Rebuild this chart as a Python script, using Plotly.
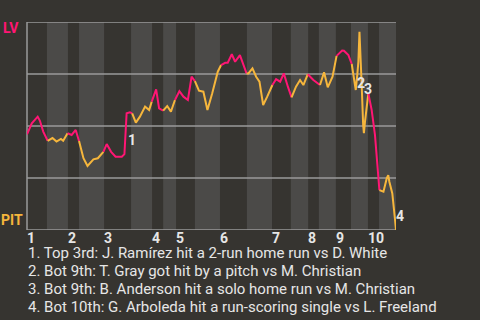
import plotly.graph_objects as go

# ---- data ----
# game progress (0..100) for each play, LV win probability after each play
play_x = [0, 1.3, 2.9, 3.5, 4.4, 5.6, 6.9, 8.0, 9.2, 9.8, 11.0, 12.1, 13.2, 14.1,
          15.3, 16.4, 18.0, 19.2, 20.7, 21.6, 22.8, 24.0, 25.7, 26.4, 27.0, 27.9,
          28.5, 29.5, 30.6, 32.0, 33.1, 33.8, 35.0, 35.8, 36.9, 38.0, 39.0, 40.1,
          41.3, 42.4, 43.6, 44.6, 45.5, 46.6, 47.8, 48.9, 50.2, 51.7, 52.6, 53.7,
          54.4, 55.5, 56.4, 57.7, 59.5, 60.0, 61.1, 62.1, 63.0, 64.0, 65.1, 66.5,
          67.5, 68.6, 69.6, 70.7, 71.7, 72.9, 74.0, 74.9, 76.1, 77.6, 79.4, 80.5,
          81.5, 82.8, 83.9, 85.4, 85.9, 87.1, 88.0, 88.4, 89.1, 89.5, 89.8, 90.1,
          90.3, 90.7, 91.1, 91.3, 91.6, 92.1, 92.5, 93.4, 94.3, 95.0, 95.5, 96.6,
          97.5, 97.9, 98.2, 99.0, 99.7, 100]
lv_win_prob = [0.46, 0.513, 0.545, 0.525, 0.473, 0.429, 0.442, 0.425, 0.4375, 0.429,
               0.465, 0.457, 0.481, 0.428, 0.345, 0.308, 0.340, 0.345, 0.376, 0.413,
               0.376, 0.352, 0.352, 0.365, 0.561, 0.566, 0.561, 0.516, 0.545, 0.593,
               0.577, 0.617, 0.676, 0.585, 0.574, 0.596, 0.569, 0.625, 0.668, 0.641,
               0.625, 0.737, 0.716, 0.670, 0.665, 0.577, 0.657, 0.761, 0.793, 0.804,
               0.804, 0.845, 0.809, 0.841, 0.753, 0.753, 0.777, 0.737, 0.713, 0.601,
               0.641, 0.697, 0.725, 0.713, 0.753, 0.689, 0.638, 0.689, 0.721, 0.697,
               0.749, 0.721, 0.697, 0.758, 0.686, 0.737, 0.837, 0.863, 0.862, 0.841,
               0.798, 0.745, 0.673, 0.745, 0.809, 0.953, 0.825, 0.697, 0.505, 0.465,
               0.521, 0.601, 0.657, 0.577, 0.457, 0.3125, 0.192, 0.184, 0.249, 0.264,
               0.232, 0.176, 0.056, 0.0]
# number of plays in each half-inning (top 1, bot 1, top 2, ...)
plays_per_half = [6, 5, 3, 5, 8, 5, 3, 3, 5, 6, 6, 7, 5, 4, 2, 4, 4, 12, 4, 7]
# start of each half-inning on the progress scale
half_starts = [0, 5.4, 11.1, 14.1, 20.9, 28.2, 33.9, 36.9, 40.4, 45.5, 52.3,
               59.6, 66.4, 71.5, 76.2, 79.1, 83.7, 87.8, 92.4, 95.4, 100]
inning_labels = ["1", "2", "3", "4", "5", "6", "7", "8", "9", "10"]
# key plays: label, progress position, probability position
key_labels = ["1", "2", "3", "4"]
key_x = [28.5, 90.4, 92.4, 101.1]
key_y = [0.433, 0.707, 0.680, 0.067]
notes = [
    "1. Top 3rd: J. Ramírez hit a 2-run home run vs D. White",
    "2. Bot 9th: T. Gray got hit by a pitch vs M. Christian",
    "3. Bot 9th: B. Anderson hit a solo home run vs M. Christian",
    "4. Bot 10th: G. Arboleda hit a run-scoring single vs L. Freeland",
]
team_top = "LV"
team_bottom = "PIT"

BG = "#363430"
BAND = "#4b4a48"
LINE = "#9a9a9a"
PINK = "#ff1674"
ORANGE = "#f6b63c"
TEXT = "#e6e6e6"
FONT = "Roboto"

fig = go.Figure()

# line segments coloured by half-inning
end = 0
for h, n in enumerate(plays_per_half):
    start = max(end - 1, 0)
    end = end + n
    fig.add_trace(go.Scatter(
        x=play_x[start:end], y=lv_win_prob[start:end], mode="lines",
        line=dict(color=PINK if h % 2 == 0 else ORANGE, width=2),
        hoverinfo="skip", showlegend=False, cliponaxis=False))

shapes = []
for h in range(len(half_starts) - 1):
    if h % 2 == 1:
        shapes.append(dict(type="rect", xref="x", yref="paper",
                           x0=half_starts[h], x1=half_starts[h + 1], y0=0, y1=1,
                           fillcolor=BAND, line=dict(width=0), layer="below"))
for gy in [0, 0.25, 0.5, 0.75, 1]:
    shapes.append(dict(type="line", xref="paper", yref="y", x0=0, x1=1, y0=gy, y1=gy,
                       line=dict(color=LINE, width=1.5), layer="below"))
shapes.append(dict(type="line", xref="paper", yref="paper", x0=0, x1=0, y0=0, y1=1,
                   line=dict(color=LINE, width=1.5), layer="below"))

annotations = []
for i, lab in enumerate(inning_labels):
    annotations.append(dict(x=half_starts[2 * i], y=0, xref="x", yref="paper",
                            text=lab, showarrow=False, xanchor="left", yanchor="top",
                            xshift=-1, yshift=1, borderpad=0,
                            font=dict(family=FONT, size=14, color=TEXT, weight="bold")))
xmax = half_starts[-1]
for lab, kx, ky in zip(key_labels, key_x, key_y):
    # labels beyond the axis end are placed at the edge and pushed out in pixels
    annotations.append(dict(x=min(kx, xmax), y=ky, xref="x", yref="y", text=lab,
                            showarrow=False, xshift=(kx - min(kx, xmax)) * 3.69,
                            font=dict(family=FONT, size=14, color=TEXT, weight="bold")))
annotations.append(dict(x=0, y=1, xref="paper", yref="paper", text=team_top,
                        showarrow=False, xanchor="right", yanchor="middle", xshift=-6, yshift=-6,
                        font=dict(family=FONT, size=14, color=PINK, weight="bold")))
annotations.append(dict(x=0, y=0, xref="paper", yref="paper", text=team_bottom,
                        showarrow=False, xanchor="right", yanchor="middle", xshift=-2, yshift=10,
                        font=dict(family=FONT, size=14, color=ORANGE, weight="bold")))
for i, note in enumerate(notes):
    annotations.append(dict(x=0, y=0, xref="paper", yref="paper", text=note,
                            showarrow=False, xanchor="left", yanchor="middle", align="left",
                            xshift=0, yshift=-23 - 18 * i, borderpad=0,
                            font=dict(family=FONT, size=15, color=TEXT)))

fig.update_layout(
    width=480, height=320, autosize=False,
    margin=dict(l=27, r=84, t=22, b=90),
    paper_bgcolor=BG, plot_bgcolor=BG,
    xaxis=dict(range=[0, 100], visible=False, fixedrange=True),
    yaxis=dict(range=[0, 1], visible=False, fixedrange=True),
    shapes=shapes, annotations=annotations,
    showlegend=False,
)

fig.write_html("out.html", config={"displayModeBar": False})
